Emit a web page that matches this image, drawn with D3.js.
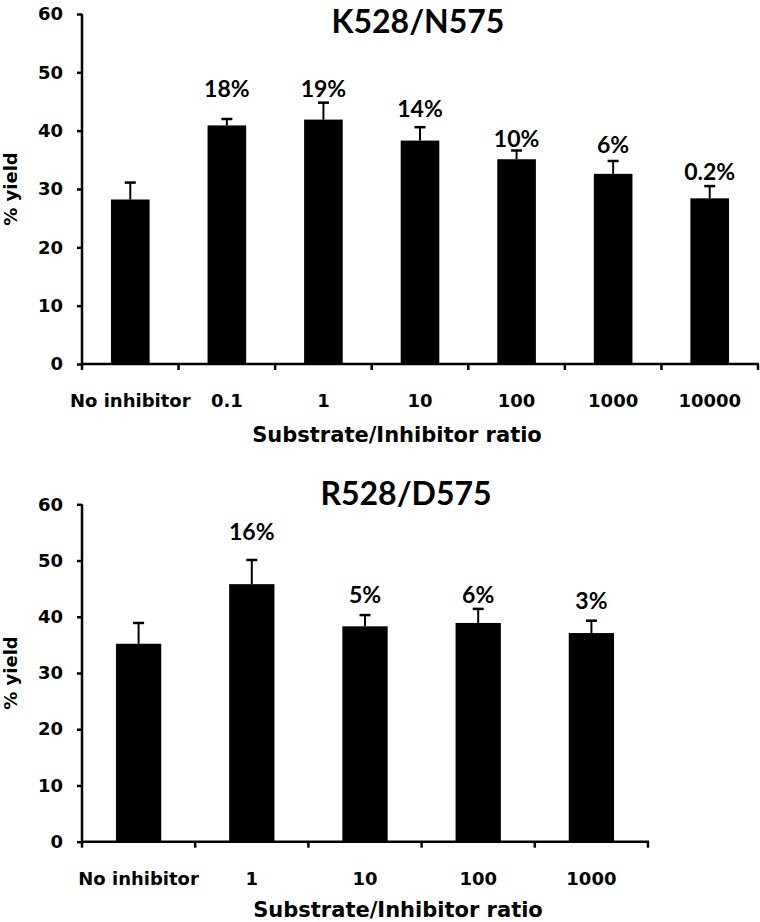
<!DOCTYPE html>
<html><head><meta charset="utf-8">
<script src="https://cdn.jsdelivr.net/npm/d3@7"></script>
<style>body{margin:0;background:#fff}svg{display:block}</style>
</head><body>
<script>
// ---- data ----
const titleA = "K528/N575";
const categoriesA = ["No inhibitor","0.1","1","10","100","1000","10000"];
const valuesA = [28.2, 40.9, 41.9, 38.3, 35.1, 32.6, 28.4];
const errorsA = [2.9, 1.1, 2.9, 2.3, 1.5, 2.2, 2.1];
const labelsA = ["", "18%", "19%", "14%", "10%", "6%", "0.2%"];
const labelAtA = [null, 45.8, 45.8, 42.4, 37.2, 36.2, 31.6];

const titleB = "R528/D575";
const categoriesB = ["No inhibitor","1","10","100","1000"];
const valuesB = [35.2, 45.8, 38.3, 38.9, 37.1];
const errorsB = [3.7, 4.3, 2.0, 2.5, 2.2];
const labelsB = ["", "16%", "5%", "6%", "3%"];
const labelAtB = [null, 53.7, 42.5, 42.5, 41.3];

const yTicks = [0,10,20,30,40,50,60];
const yLabel = "% yield";
const xLabel = "Substrate/Inhibitor ratio";

const W = 760, H = 922;
const svg = d3.select("body").append("svg").attr("width", W).attr("height", H);
const axisFont = "'DejaVu Sans', 'Liberation Sans', Arial, sans-serif";
const annoFont = "Lato, 'Open Sans', sans-serif";

function panel(o) {
  const g = svg.append("g");
  const x = d3.scaleBand().domain(o.cats).range([o.x0, o.x1]).padding(0);
  const y = d3.scaleLinear().domain([0, 60]).range([o.y0, o.y1]);
  const bw = x.bandwidth() * 0.4;

  // bars
  g.selectAll("rect.bar").data(o.cats).join("rect")
    .attr("x", d => x(d) + x.bandwidth()/2 - bw/2)
    .attr("y", (d,i) => y(o.vals[i]))
    .attr("width", bw)
    .attr("height", (d,i) => y(0) - y(o.vals[i]))
    .attr("fill", "#000");

  // error bars (upper only)
  const eb = g.selectAll("g.err").data(o.cats).join("g")
    .attr("transform", d => `translate(${x(d) + x.bandwidth()/2},0)`);
  eb.append("line").attr("x1",0).attr("x2",0)
    .attr("y1",(d,i)=>y(o.vals[i])).attr("y2",(d,i)=>y(o.vals[i]+o.errs[i]))
    .attr("stroke","#000").attr("stroke-width",2);
  eb.append("line").attr("x1",-5.5).attr("x2",5.5)
    .attr("y1",(d,i)=>y(o.vals[i]+o.errs[i])).attr("y2",(d,i)=>y(o.vals[i]+o.errs[i]))
    .attr("stroke","#000").attr("stroke-width",2.5);

  // percent labels
  g.selectAll("text.pct").data(o.cats).join("text")
    .attr("x", d => x(d) + x.bandwidth()/2)
    .attr("y", (d,i) => o.labAt[i] == null ? 0 : y(o.labAt[i]))
    .attr("text-anchor","middle")
    .attr("font-family", annoFont)
    .attr("font-weight","bold").attr("font-size",23)
    .text((d,i) => o.labs[i]);

  // y axis
  const ya = g.append("g").attr("transform",`translate(${o.x0},0)`)
    .call(d3.axisLeft(y).tickValues(yTicks).tickSize(5).tickPadding(14).tickSizeOuter(0));
  ya.select(".domain").attr("stroke-width",2.5).attr("d", `M0,${o.y0+1}V${o.y1}`);
  ya.selectAll(".tick line").attr("stroke-width",2.5);
  ya.selectAll(".tick text").attr("font-family", axisFont)
    .attr("font-weight","bold").attr("font-size",18).attr("fill","#000");

  // x axis: line + boundary ticks
  const xa = g.append("g");
  xa.append("line").attr("x1",o.x0-1).attr("x2",o.x1+1).attr("y1",o.y0).attr("y2",o.y0)
    .attr("stroke","#000").attr("stroke-width",2.5);
  const bounds = o.cats.map(d => x(d)).concat([x.range()[1]]);
  xa.selectAll("line.tk").data(bounds).join("line")
    .attr("x1",d=>d).attr("x2",d=>d).attr("y1",o.y0).attr("y2",o.y0+6)
    .attr("stroke","#000").attr("stroke-width",2.5);
  xa.selectAll("text.cat").data(o.cats).join("text")
    .attr("x", d => x(d) + x.bandwidth()/2)
    .attr("y", o.y0 + 43)
    .attr("text-anchor","middle")
    .attr("font-family", axisFont)
    .attr("font-weight","bold").attr("font-size",18)
    .text(d => d);

  // axis titles
  g.append("text").attr("x", o.xTitleX).attr("y", o.y0 + o.xTitleDy)
    .attr("text-anchor","middle")
    .attr("font-family", axisFont)
    .attr("font-weight","bold").attr("font-size",21).text(xLabel);
  g.append("text")
    .attr("transform", `translate(17,${(o.y0+o.y1)/2}) rotate(-90)`)
    .attr("text-anchor","middle")
    .attr("font-family", axisFont)
    .attr("font-weight","bold").attr("font-size",18).text(yLabel);

  // title
  g.append("text").attr("x", o.titleX).attr("y", o.titleY)
    .attr("text-anchor","middle")
    .attr("font-family", annoFont)
    .attr("font-weight","bold").attr("font-size",32).text(o.title);
}

panel({cats: categoriesA, vals: valuesA, errs: errorsA, labs: labelsA, labAt: labelAtA,
  x0: 82, x1: 758, y0: 364, y1: 14, title: titleA, titleX: 418, titleY: 33, xTitleX: 397, xTitleDy: 78});
panel({cats: categoriesB, vals: valuesB, errs: errorsB, labs: labelsB, labAt: labelAtB,
  x0: 82, x1: 648, y0: 841.7, y1: 504.3, title: titleB, titleX: 406, titleY: 505, xTitleX: 398, xTitleDy: 75});
</script>
</body></html>
